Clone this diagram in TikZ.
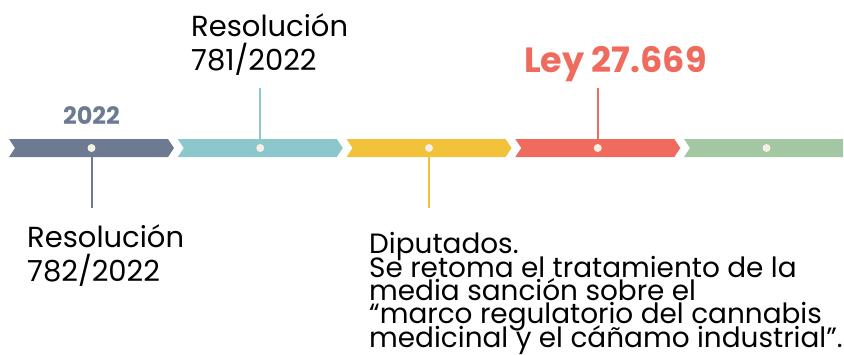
\documentclass[tikz,border=0pt]{standalone}
\usepackage{fontspec}
\setmainfont{Poppins}
\usetikzlibrary{positioning,calc}
\definecolor{slate}{HTML}{6D7A91}
\definecolor{teal}{HTML}{8CC8CB}
\definecolor{sun}{HTML}{F2C33A}
\definecolor{coral}{HTML}{EE6B5D}
\definecolor{sage}{HTML}{A2C7A2}
\definecolor{pearl}{HTML}{F6EFE4}
\newcommand\tightlines{\lineskiplimit=-100pt\relax\lineskip=0pt\relax}

\begin{document}
\begin{tikzpicture}[x=1pt,y=-1pt,
  stem/.style={line width=2pt},
  dot/.style={circle,fill=pearl,inner sep=0pt,minimum size=8pt},
  note/.style={anchor=base west,align=left,inner sep=0pt,font=\fontsize{29}{34}\selectfont}]
  \useasboundingbox (0,0) rectangle (844,354);
  % ribbon
  \foreach \c [count=\i] in {slate,teal,sun,coral} {
    \fill[\c] ({9+168.75*(\i-1)},139) -- ++(159,0) -- ++(6,9) -- ++(-6,9) -- ++(-159,0) -- ++(6,-9) -- cycle;
    \coordinate (d\i) at ({91.5+168.75*(\i-1)},148);
  }
  \fill[sage] (684,139) -- (843,139) -- (843,157) -- (684,157) -- ++(6,-9) -- cycle;
  \coordinate (d5) at (766.5,148);
  \coordinate (e1) at (91.5,208);
  \coordinate (e2) at (260.25,88);
  \coordinate (e3) at (429,208);
  \coordinate (e4) at (597.75,88);

  \draw[stem,slate] (d1) -- (e1);
  \draw[stem,teal] (d2) -- (e2);
  \draw[stem,sun] (d3) -- (e3);
  \draw[stem,coral] (d4) -- (e4);
  \foreach \i in {1,...,5} \node[dot] (dot\i) at (d\i) {};

  % anchors sit on the last line's baseline
  \node[note] (res781) at (191,70) {Resolución\\781/2022};
  \node[note,text=coral,font=\fontsize{35}{40}\selectfont\bfseries] (ley) at (524,72) {Ley 27.669};
  \node[inner sep=0pt,anchor=base,text=slate,font=\fontsize{24}{28}\selectfont\bfseries] (year) at (91.5,124.5) {2022};
  \node[note] (res782) at (27,281) {Resolución\\782/2022};
  \node[note,font={\fontsize{27.9}{23.3}\selectfont\tightlines}] (dip) at (369,347) {Diputados.\\Se retoma el tratamiento de la\\media sanción sobre el\\“marco regulatorio del cannabis\\medicinal y el cáñamo industrial”.};
\end{tikzpicture}
\end{document}
